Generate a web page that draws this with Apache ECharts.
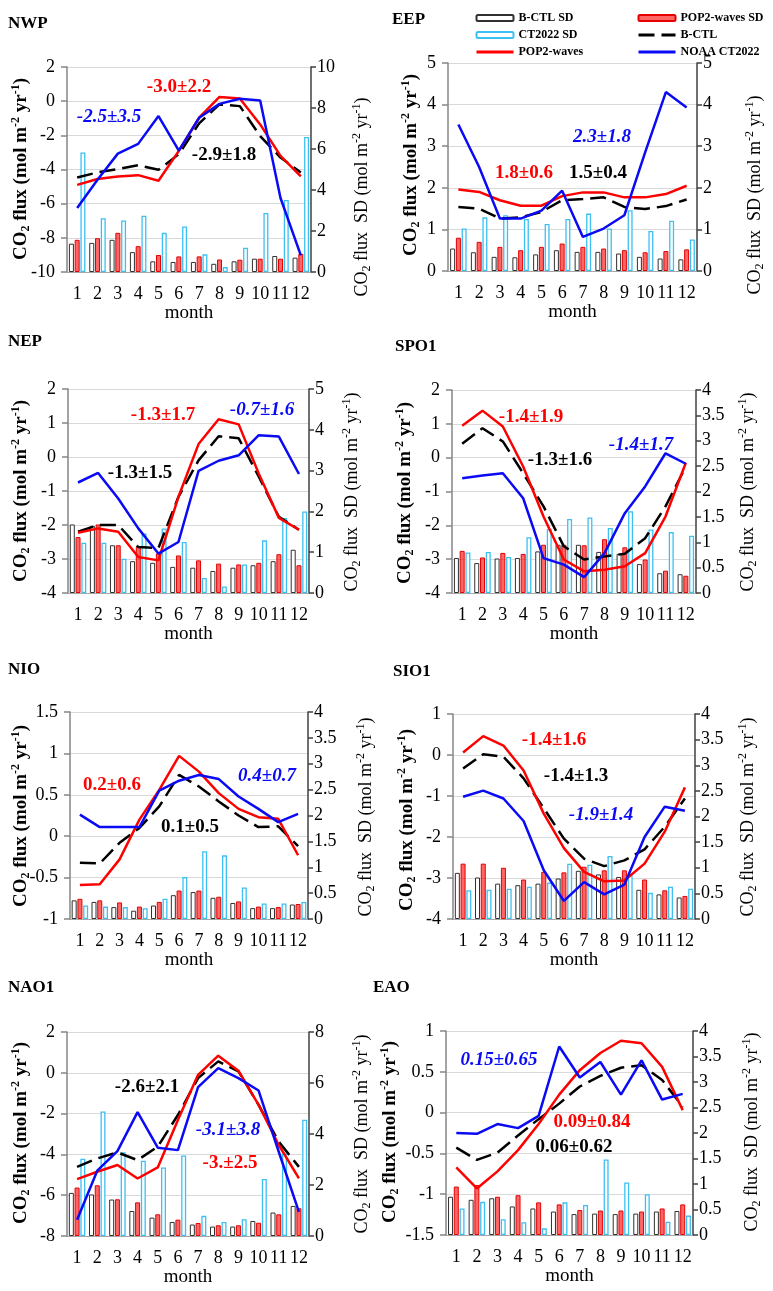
<!DOCTYPE html>
<html lang="en">
<head>
<meta charset="UTF-8">
<title>CO2 flux by region</title>
<style>
  html, body { margin: 0; padding: 0; background: #fff; }
  #chart { width: 773px; height: 1291px; }
</style>
</head>
<body>
<div id="chart"></div>
<script src="https://cdn.jsdelivr.net/npm/echarts@6/dist/echarts.min.js"></script>
<script>
const FONT = '"Liberation Serif", "Times New Roman", serif';

const months = ['1', '2', '3', '4', '5', '6', '7', '8', '9', '10', '11', '12'];
const regions = ['NWP', 'EEP', 'NEP', 'SPO1', 'NIO', 'SIO1', 'NAO1', 'EAO'];

// monthly CO2 flux (mol m-2 yr-1)
const bctl = {
  NWP: [-4.47, -4.17, -3.98, -3.75, -4.02, -3.1, -1.3, -0.19, -0.29, -2.04, -3.3, -4.17],
  EEP: [1.54, 1.5, 1.26, 1.29, 1.42, 1.7, 1.73, 1.77, 1.54, 1.49, 1.56, 1.72],
  NEP: [-2.2, -2.0, -2.0, -2.65, -2.68, -1.17, -0.1, 0.61, 0.55, -0.58, -1.76, -2.14],
  SPO1: [0.41, 0.87, 0.48, -0.46, -1.44, -2.62, -3.01, -2.92, -2.84, -2.38, -1.44, -0.26],
  NIO: [-0.32, -0.33, -0.08, 0.1, 0.36, 0.74, 0.6, 0.42, 0.25, 0.11, 0.12, -0.12],
  SIO1: [-0.33, 0.02, -0.04, -0.57, -1.3, -2.04, -2.53, -2.71, -2.57, -2.3, -1.75, -1.06],
  NAO1: [-4.61, -4.2, -3.9, -4.28, -3.62, -2.07, -0.26, 0.56, 0.07, -1.57, -3.38, -4.61],
  EAO: [-0.43, -0.58, -0.49, -0.28, -0.08, 0.11, 0.32, 0.45, 0.55, 0.58, 0.4, 0.07]
};
const pop2 = {
  NWP: [-4.9, -4.56, -4.41, -4.33, -4.66, -2.91, -0.97, 0.25, 0.16, -1.36, -3.2, -4.4],
  EEP: [1.96, 1.9, 1.7, 1.57, 1.57, 1.8, 1.89, 1.89, 1.77, 1.77, 1.85, 2.05],
  NEP: [-2.23, -2.1, -2.2, -2.94, -3.04, -1.17, 0.38, 1.11, 0.96, -0.49, -1.79, -2.14],
  SPO1: [0.94, 1.39, 0.92, -0.26, -1.74, -3.01, -3.36, -3.31, -3.21, -2.82, -1.74, -0.15],
  NIO: [-0.59, -0.58, -0.28, 0.2, 0.56, 0.97, 0.78, 0.52, 0.33, 0.23, 0.21, -0.23],
  SIO1: [0.06, 0.46, 0.23, -0.38, -1.43, -2.27, -2.85, -3.08, -3.06, -2.65, -1.87, -0.79],
  NAO1: [-5.21, -4.85, -4.52, -5.18, -4.64, -2.31, -0.1, 0.84, 0.1, -1.57, -3.54, -5.18],
  EAO: [-0.67, -0.93, -0.72, -0.46, -0.14, 0.22, 0.52, 0.73, 0.88, 0.85, 0.56, 0.03]
};
const ct2022 = {
  NWP: [-6.25, -4.6, -3.07, -2.5, -0.87, -2.9, -0.97, -0.16, 0.14, 0.04, -5.67, -9.03],
  EEP: [3.52, 2.5, 1.26, 1.26, 1.45, 1.93, 0.82, 1.02, 1.34, 2.85, 4.3, 3.93],
  NEP: [-0.75, -0.47, -1.22, -2.1, -2.84, -2.5, -0.41, -0.11, 0.05, 0.64, 0.6, -0.5],
  SPO1: [-0.61, -0.53, -0.46, -1.2, -2.97, -3.16, -3.53, -2.82, -1.64, -0.85, 0.13, -0.18],
  NIO: [0.26, 0.11, 0.11, 0.11, 0.55, 0.67, 0.74, 0.69, 0.48, 0.33, 0.17, 0.27],
  SIO1: [-1.02, -0.87, -1.06, -1.61, -2.81, -3.56, -3.1, -3.4, -3.16, -2.0, -1.26, -1.36],
  NAO1: [-7.2, -4.8, -3.84, -1.93, -3.67, -3.79, -0.7, 0.23, -0.26, -0.87, -3.87, -6.82],
  EAO: [-0.25, -0.26, -0.14, -0.19, -0.04, 0.81, 0.43, 0.62, 0.22, 0.64, 0.16, 0.23]
};

// monthly SD of the flux (mol m-2 yr-1)
const bctlSd = {
  NWP: [1.38, 1.42, 1.57, 0.97, 0.52, 0.49, 0.49, 0.4, 0.52, 0.65, 0.78, 0.7],
  EEP: [0.54, 0.45, 0.34, 0.33, 0.4, 0.5, 0.46, 0.46, 0.42, 0.34, 0.3, 0.28],
  NEP: [1.68, 1.64, 1.17, 0.78, 0.74, 0.64, 0.62, 0.54, 0.62, 0.68, 0.78, 1.06],
  SPO1: [0.69, 0.59, 0.68, 0.69, 0.82, 0.95, 0.95, 0.81, 0.77, 0.57, 0.39, 0.37],
  NIO: [0.36, 0.33, 0.23, 0.16, 0.26, 0.46, 0.52, 0.41, 0.31, 0.21, 0.21, 0.28],
  SIO1: [0.9, 0.81, 0.69, 0.66, 0.69, 0.79, 0.94, 0.87, 0.82, 0.57, 0.48, 0.42],
  NAO1: [1.69, 1.63, 1.43, 0.98, 0.72, 0.55, 0.45, 0.37, 0.37, 0.59, 0.92, 1.18],
  EAO: [0.75, 0.69, 0.72, 0.56, 0.52, 0.46, 0.41, 0.42, 0.41, 0.42, 0.46, 0.47]
};
const pop2Sd = {
  NWP: [1.57, 1.65, 1.91, 1.26, 0.83, 0.76, 0.76, 0.61, 0.6, 0.65, 0.65, 0.89],
  EEP: [0.8, 0.7, 0.58, 0.5, 0.58, 0.66, 0.58, 0.54, 0.5, 0.45, 0.48, 0.52],
  NEP: [1.37, 1.68, 1.17, 1.13, 0.97, 0.92, 0.8, 0.72, 0.7, 0.74, 0.95, 0.68],
  SPO1: [0.83, 0.7, 0.79, 0.77, 0.95, 0.95, 0.94, 1.06, 0.9, 0.66, 0.44, 0.34],
  NIO: [0.39, 0.36, 0.32, 0.24, 0.33, 0.55, 0.55, 0.43, 0.34, 0.24, 0.23, 0.29],
  SIO1: [1.08, 1.08, 1.0, 0.77, 0.92, 0.91, 1.02, 0.95, 0.95, 0.77, 0.56, 0.45],
  NAO1: [1.9, 1.99, 1.44, 1.32, 0.85, 0.64, 0.51, 0.42, 0.42, 0.52, 0.85, 1.09],
  EAO: [0.95, 0.98, 0.75, 0.78, 0.64, 0.6, 0.49, 0.48, 0.48, 0.46, 0.52, 0.6]
};
const ctSd = {
  NWP: [5.83, 2.62, 2.51, 2.75, 1.91, 2.22, 0.86, 0.24, 1.18, 2.88, 3.51, 6.59],
  EEP: [1.02, 1.29, 1.34, 1.25, 1.13, 1.25, 1.38, 1.02, 1.46, 0.96, 1.21, 0.76],
  NEP: [1.23, 1.23, 0.84, 1.46, 1.58, 1.25, 0.37, 0.16, 0.7, 1.29, 1.84, 2.0],
  SPO1: [0.8, 0.81, 0.71, 1.1, 1.26, 1.46, 1.49, 1.28, 1.61, 1.25, 1.2, 1.13],
  NIO: [0.26, 0.24, 0.23, 0.21, 0.39, 0.81, 1.31, 1.23, 0.61, 0.3, 0.3, 0.33],
  SIO1: [0.56, 0.57, 0.59, 0.63, 0.71, 1.08, 1.06, 1.23, 0.87, 0.51, 0.63, 0.59],
  NAO1: [3.03, 4.88, 3.28, 2.95, 2.69, 3.16, 0.79, 0.55, 0.66, 2.24, 3.24, 4.56],
  EAO: [0.52, 0.65, 0.31, 0.25, 0.13, 0.64, 0.59, 1.48, 1.03, 0.8, 0.26, 0.38]
};

// annual mean ± SD printed in each panel
const statPop2 = ['-3.0±2.2', '1.8±0.6', '-1.3±1.7', '-1.4±1.9', '0.2±0.6', '-1.4±1.6', '-3.±2.5', '0.09±0.84'];
const statCt = ['-2.5±3.5', '2.3±1.8', '-0.7±1.6', '-1.4±1.7', '0.4±0.7', '-1.9±1.4', '-3.1±3.8', '0.15±0.65'];
const statBctl = ['-2.9±1.8', '1.5±0.4', '-1.3±1.5', '-1.3±1.6', '0.1±0.5', '-1.4±1.3', '-2.6±2.1', '0.06±0.62'];

// axis ticks [min, max, step]
const fluxTicks = [[-10, 2, 2], [0, 5, 1], [-4, 2, 1], [-4, 2, 1], [-1, 1.5, 0.5], [-4, 1, 1], [-8, 2, 2], [-1.5, 1, 0.5]];
const sdTicks = [[0, 10, 2], [0, 5, 1], [0, 5, 1], [0, 4, 0.5], [0, 4, 0.5], [0, 4, 0.5], [0, 8, 2], [0, 4, 0.5]];

// page layout, pixels: plot box, panel title, axis titles, stat labels (red, blue, black)
const layout = [
  { box: [67, 67, 244, 205], title: [8, 24], yl: [21, 169], yr: [362, 197], ann: [[179, 87], [109, 117], [224, 155]] },
  { box: [448, 63, 249, 208], title: [392, 20], yl: [411, 165], yr: [755, 195], ann: [[524, 173], [602, 137], [598, 173]] },
  { box: [68, 389, 241, 204], title: [8, 342], yl: [21, 491], yr: [352, 492], ann: [[163, 415], [262, 410], [140, 473]] },
  { box: [452, 390, 244, 203], title: [395, 347], yl: [405, 493], yr: [748, 492], ann: [[531, 417], [641, 445], [560, 460]] },
  { box: [70, 712, 238, 207], title: [8, 670], yl: [21, 816], yr: [366, 817], ann: [[112, 785], [267, 776], [190, 827]] },
  { box: [453, 714, 242, 205], title: [393, 672], yl: [407, 820], yr: [748, 817], ann: [[554, 740], [601, 815], [576, 776]] },
  { box: [67, 1032, 242, 204], title: [8, 988], yl: [21, 1133], yr: [362, 1134], ann: [[230, 1163], [228, 1130], [147, 1087]] },
  { box: [446, 1031, 247, 204], title: [373, 988], yl: [390, 1132], yr: [752, 1132], ann: [[592, 1122], [499, 1060], [574, 1147]] }
];

function axisTitle(x, y, sd) {
  const w = sd ? 'normal' : 'bold';
  const fs = sd ? 18 : 19;
  const txt = sd
    ? '{m|CO}{sub|2}{m| flux  SD (mol m}{sup|-2}{m| yr}{sup|-1}{m|)}'
    : '{m|CO}{sub|2}{m| flux (mol m}{sup|-2}{m| yr}{sup|-1}{m|)}';
  const base = { fontFamily: FONT, fontWeight: w, fill: '#000', color: '#000' };
  return {
    type: 'text', x: x, y: y, rotation: Math.PI / 2, z: 10, silent: true,
    style: {
      text: txt, x: 0, y: 0,
      align: 'center', verticalAlign: 'middle', textAlign: 'center', textVerticalAlign: 'middle',
      rich: {
        m: Object.assign({ fontSize: fs, lineHeight: 22, verticalAlign: 'middle' }, base),
        sub: Object.assign({ fontSize: 12, lineHeight: 12, verticalAlign: 'bottom' }, base),
        sup: Object.assign({ fontSize: 12, lineHeight: 12, verticalAlign: 'top' }, base)
      }
    }
  };
}

function label(x, y, text, color, italic, size, align) {
  return {
    type: 'text', x: x, y: y, z: 10, silent: true,
    style: {
      text: text, x: 0, y: 0, fill: color,
      font: (italic ? 'italic ' : '') + 'bold ' + size + 'px ' + FONT,
      align: align || 'center', verticalAlign: 'middle',
      textAlign: align || 'center', textVerticalAlign: 'middle'
    }
  };
}

const grid = [], xAxis = [], yAxis = [], series = [], graphic = [];

regions.forEach(function (r, i) {
  const L = layout[i];
  grid.push({ left: L.box[0], top: L.box[1], width: L.box[2], height: L.box[3] });

  xAxis.push({
    type: 'category', gridIndex: i, data: months,
    axisLine: { show: true, onZero: false, lineStyle: { color: '#a6a6a6', width: 1 } },
    axisTick: { show: false },
    axisLabel: { interval: 0, margin: 13, color: '#000', fontFamily: FONT, fontSize: 18 },
    name: 'month', nameLocation: 'middle', nameGap: 32,
    nameTextStyle: { color: '#000', fontFamily: FONT, fontSize: 19 }
  });

  yAxis.push({
    type: 'value', gridIndex: i, position: 'left',
    min: fluxTicks[i][0], max: fluxTicks[i][1], interval: fluxTicks[i][2],
    axisLine: { show: true, lineStyle: { color: '#868686', width: 1.5 } },
    axisTick: { show: true, length: 6, lineStyle: { color: '#868686', width: 1.5 } },
    axisLabel: { margin: 12, color: '#000', fontFamily: FONT, fontSize: 18 },
    splitLine: { show: true, lineStyle: { color: '#d9d9d9', width: 1 } }
  });
  yAxis.push({
    type: 'value', gridIndex: i, position: 'right',
    min: sdTicks[i][0], max: sdTicks[i][1], interval: sdTicks[i][2],
    axisLine: { show: true, lineStyle: { color: '#404040', width: 1.5 } },
    axisTick: { show: true, length: 5, lineStyle: { color: '#404040', width: 1.5 } },
    axisLabel: { margin: 6, color: '#000', fontFamily: FONT, fontSize: 18 },
    splitLine: { show: false }
  });

  const barBase = { type: 'bar', xAxisIndex: i, yAxisIndex: 2 * i + 1, barWidth: 5, barGap: '15%' };
  series.push(Object.assign({ name: 'B-CTL SD', data: bctlSd[r],
    itemStyle: { color: '#fff', borderColor: '#303030', borderWidth: 1 } }, barBase));
  series.push(Object.assign({ name: 'POP2-waves SD', data: pop2Sd[r],
    itemStyle: { color: 'rgba(255,0,0,0.6)', borderColor: '#e60000', borderWidth: 1 } }, barBase));
  series.push(Object.assign({ name: 'CT2022 SD', data: ctSd[r],
    itemStyle: { color: '#fff', borderColor: '#3cc0f2', borderWidth: 1.3 } }, barBase));

  const lineBase = { type: 'line', xAxisIndex: i, yAxisIndex: 2 * i, symbol: 'none', z: 3 };
  series.push(Object.assign({ name: 'B-CTL', data: bctl[r],
    lineStyle: { color: '#000', width: 2.5, type: [16, 7] }, itemStyle: { color: '#000' } }, lineBase));
  series.push(Object.assign({ name: 'POP2-waves', data: pop2[r],
    lineStyle: { color: '#ff0000', width: 2.5 }, itemStyle: { color: '#ff0000' } }, lineBase));
  series.push(Object.assign({ name: 'NOAA CT2022', data: ct2022[r],
    lineStyle: { color: '#0a0af5', width: 2.5 }, itemStyle: { color: '#0a0af5' } }, lineBase));

  graphic.push(label(L.title[0], L.title[1], r, '#000', false, 17, 'left'));
  graphic.push(axisTitle(L.yl[0], L.yl[1], false));
  graphic.push(axisTitle(L.yr[0], L.yr[1], true));
  graphic.push(label(L.ann[0][0], L.ann[0][1], statPop2[i], '#ff0000', false, 19));
  graphic.push(label(L.ann[1][0], L.ann[1][1], statCt[i], '#0a0af5', true, 19));
  graphic.push(label(L.ann[2][0], L.ann[2][1], statBctl[i], '#000', false, 19));
});

// line entries in the legend: line only, no marker
const lineOnly = function (name) {
  return { name: name, itemStyle: { opacity: 0, color: 'rgba(0,0,0,0)', borderWidth: 0 } };
};

const legendBase = {
  orient: 'vertical', top: 7, itemWidth: 37, itemHeight: 6, itemGap: 5, selectedMode: false,
  lineStyle: { width: 3 },
  textStyle: { color: '#000', fontFamily: FONT, fontSize: 12, fontWeight: 'bold', lineHeight: 12 }
};

const chart = echarts.init(document.getElementById('chart'));
chart.setOption({
  animation: false,
  backgroundColor: '#fff',
  legend: [
    Object.assign({ left: 470, data: ['B-CTL SD', 'CT2022 SD', lineOnly('POP2-waves')] }, legendBase),
    Object.assign({ left: 632, data: ['POP2-waves SD', lineOnly('B-CTL'), lineOnly('NOAA CT2022')] }, legendBase)
  ],
  grid: grid,
  xAxis: xAxis,
  yAxis: yAxis,
  series: series,
  graphic: graphic
});
</script>
</body>
</html>
